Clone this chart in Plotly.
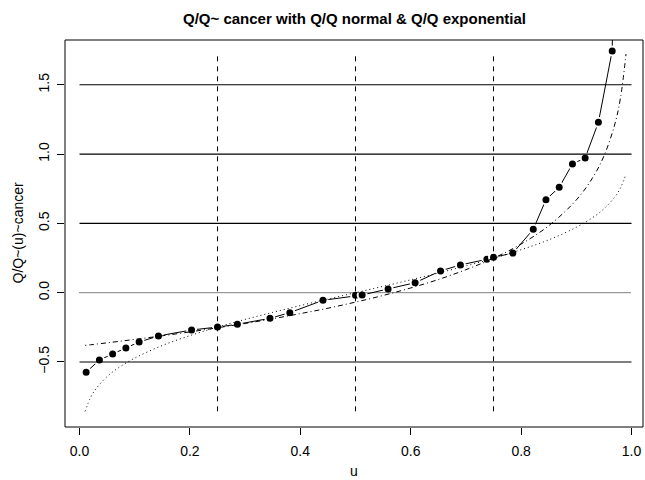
import plotly.graph_objects as go

# cancer empirical Q/Q~ points (type "b")
u_cancer = [0.012, 0.036, 0.060, 0.084, 0.108, 0.143, 0.203, 0.250, 0.286, 0.345,
            0.381, 0.441, 0.500, 0.512, 0.559, 0.608, 0.654, 0.690, 0.738, 0.750,
            0.785, 0.822, 0.845, 0.869, 0.893, 0.916, 0.940, 0.965, 0.989]
q_cancer = [-0.574, -0.486, -0.442, -0.399, -0.356, -0.312, -0.269, -0.248, -0.228, -0.185,
            -0.144, -0.055, -0.019, -0.017, 0.027, 0.072, 0.157, 0.200, 0.241, 0.255,
            0.286, 0.457, 0.671, 0.760, 0.929, 0.972, 1.229, 1.744, 8.0]

# Q/Q normal (dotted) and Q/Q exponential (dot-dash) curves
u_curve = [0.01, 0.02, 0.03, 0.05, 0.07, 0.10, 0.15, 0.20, 0.25, 0.30, 0.35, 0.40, 0.45,
           0.50, 0.55, 0.60, 0.65, 0.70, 0.75, 0.80, 0.85, 0.90, 0.93, 0.95, 0.97, 0.98, 0.99]
q_normal = [-0.856, -0.756, -0.692, -0.605, -0.543, -0.472, -0.381, -0.310, -0.248, -0.193,
            -0.142, -0.093, -0.046, 0.000, 0.046, 0.093, 0.142, 0.193, 0.248, 0.310,
            0.381, 0.472, 0.543, 0.605, 0.692, 0.756, 0.856]
q_expon = [-0.380, -0.376, -0.371, -0.362, -0.352, -0.337, -0.311, -0.283, -0.253, -0.222,
           -0.188, -0.151, -0.112, -0.068, -0.020, 0.034, 0.095, 0.166, 0.249, 0.351,
           0.483, 0.669, 0.832, 0.986, 1.219, 1.405, 1.722]

# reference lines
quartiles = [0.25, 0.50, 0.75]
vline_span = [-0.856, 1.722]
hlines_solid = [-0.5, 0.5, 1.0, 1.5]
hline_dotted = [0.0]
hline_span = [0.0, 1.0]

x_ticks = [0.0, 0.2, 0.4, 0.6, 0.8, 1.0]
x_ticktext = ["0.0", "0.2", "0.4", "0.6", "0.8", "1.0"]
y_ticks = [-0.5, 0.0, 0.5, 1.0, 1.5]
y_ticktext = ["\u22120.5", "0.0", "0.5", "1.0", "1.5"]

FONT = "Liberation Sans, Arial, Helvetica, sans-serif"

fig = go.Figure()

fig.add_trace(go.Scatter(
    x=u_cancer, y=q_cancer, mode="lines+markers",
    line=dict(color="black", width=1),
    marker=dict(color="black", size=9, line=dict(color="white", width=2)),
    cliponaxis=True, showlegend=False))

fig.add_trace(go.Scatter(
    x=u_curve, y=q_normal, mode="lines", line_shape="spline",
    line=dict(color="black", width=1, dash="1px,3px"), showlegend=False))

fig.add_trace(go.Scatter(
    x=u_curve, y=q_expon, mode="lines", line_shape="spline",
    line=dict(color="black", width=1, dash="1px,3px,5px,3px"), showlegend=False))

for q in quartiles:
    fig.add_trace(go.Scatter(
        x=[q, q], y=vline_span, mode="lines",
        line=dict(color="black", width=1, dash="5px,5px"), showlegend=False))

for h in hlines_solid:
    fig.add_trace(go.Scatter(
        x=hline_span, y=[h, h], mode="lines",
        line=dict(color="black", width=1.2), showlegend=False))

for h in hline_dotted:
    fig.add_trace(go.Scatter(
        x=hline_span, y=[h, h], mode="lines",
        line=dict(color="black", width=1, dash="1px,1px"), showlegend=False))

fig.update_layout(
    width=645, height=480,
    margin=dict(l=65, r=2, t=40, b=53),
    paper_bgcolor="white", plot_bgcolor="white",
    font=dict(family=FONT, size=14, color="black"),
    showlegend=False,
    xaxis=dict(range=[-0.0263, 1.0208], tickvals=x_ticks, ticktext=x_ticktext,
               ticks="outside", ticklen=7, tickcolor="black", tickwidth=1,
               showgrid=False, zeroline=False, showline=False,
               ticklabelstandoff=4, tickfont=dict(size=14)),
    yaxis=dict(range=[-0.969, 1.823], tickvals=y_ticks, ticktext=y_ticktext,
               ticks="outside", ticklen=7, tickcolor="black", tickwidth=1,
               tickangle=-90, showgrid=False, zeroline=False, showline=False,
               ticklabelstandoff=2, tickfont=dict(size=14)),
    shapes=[dict(type="rect", xref="paper", yref="paper", x0=0, x1=1, y0=0, y1=1,
                 line=dict(color="black", width=1))],
    annotations=[
        dict(text="<b>Q/Q~ cancer with Q/Q normal & Q/Q exponential</b>",
             xref="paper", yref="paper", x=0.5, y=1 + (40 - 18.5) / 387,
             xanchor="center", yanchor="middle", showarrow=False,
             font=dict(size=15, family=FONT)),
        dict(text="u", xref="paper", yref="paper", x=0.5, y=-(471 - 427) / 387,
             xanchor="center", yanchor="middle", showarrow=False, font=dict(size=14)),
        dict(text="Q/Q~(u)~cancer", xref="paper", yref="paper", x=-(65 - 17) / 578,
             y=0.5, xanchor="center", yanchor="middle", textangle=-90,
             showarrow=False, font=dict(size=14)),
    ],
)

fig.write_html("out.html")
